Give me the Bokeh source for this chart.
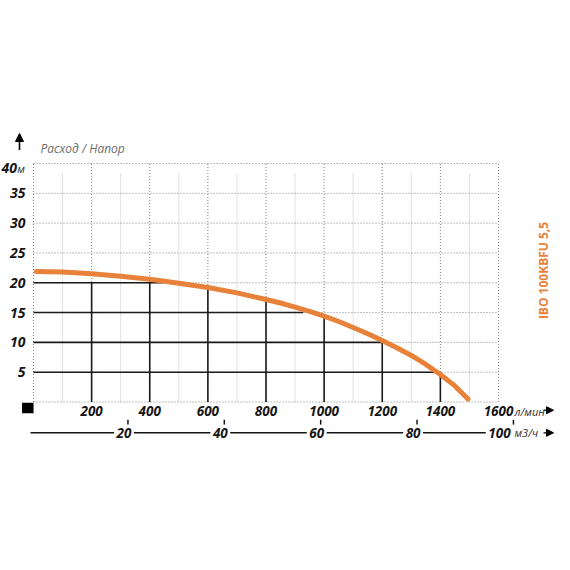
from bokeh.plotting import figure
from bokeh.models import Range1d, LabelSet, Arrow, NormalHead, ColumnDataSource
from bokeh.core.properties import value
from bokeh.embed import file_html
from bokeh.resources import INLINE
import math

# Q-H curve (л/мин -> м)
flow = [10, 100, 200, 300, 400, 500, 600, 700, 800, 850, 900, 950, 1000, 1050, 1100, 1150,
        1200, 1250, 1300, 1350, 1400, 1450, 1495]
head = [21.9, 21.8, 21.5, 21.1, 20.6, 19.9, 19.2, 18.3, 17.2, 16.6, 15.9, 15.2, 14.4, 13.5, 12.5,
        11.45, 10.3, 9.1, 7.8, 6.3, 4.6, 2.7, 0.5]

# black guide lines from the axes to the curve
drop_flow = [200, 400, 600, 800, 1000, 1200, 1400]
drop_head = [20, 20, 19.2, 17.2, 14.4, 10.3, 4.6]
level_head = [20, 15, 10, 5]
level_flow = [445, 928, 1200, 1400]

flow_ticks = [200, 400, 600, 800, 1000, 1200, 1400, 1600]
flow_minor = [100, 300, 500, 700, 900, 1100, 1300, 1500]
head_ticks = [5, 10, 15, 20, 25, 30, 35]
head_top = 40
m3h_ticks = [20, 40, 60, 80]
m3h_last = 100
m3h_span = (0.4, 96.9)   # м3/ч under 0 and 1600 л/мин as drawn

title = "Расход / Напор"
model = "IBO 100KBFU 5,5"
unit_head = "м"
unit_lpm = "л/мин"
unit_m3h = "м3/ч"

ORANGE = "#e8823a"
INK = "#151515"
GRID = "#808080"
FONT = value("Open Sans")

# layout: the field 0..1600 x 0..40 sits at OX,OY (canvas px) with size PW x PH
W = H = 554
OX, OY = 33, 401.5
PW, PH = 465, 238.5
X1, Y1 = 1600, head_top
kx = X1 / PW
ky = Y1 / PH


def dx(px):
    return px * kx


def dy(px):
    return px * ky


def to_m3h(x):
    return m3h_span[0] + x * (m3h_span[1] - m3h_span[0]) / X1


xs, xe = -OX * kx, (W - OX) * kx
p = figure(width=W, height=H, x_range=Range1d(xs, xe), y_range=Range1d(-(H - OY) * ky, OY * ky),
           x_axis_type=None, y_axis_type=None, output_backend="svg", toolbar_location=None,
           min_border=0)
p.extra_x_ranges = {"m3h": Range1d(to_m3h(xs), to_m3h(xe))}
p.outline_line_color = None
p.background_fill_color = "white"

# grid
p.segment(x0=flow_minor, y0=0, x1=flow_minor, y1=Y1 - dy(9.5), line_color="#e2e2e2", line_width=1)
gx = [0] + flow_ticks
p.segment(x0=gx, y0=0, x1=gx, y1=Y1, line_color=GRID, line_width=1, line_dash="1 2")
gy = [0] + head_ticks + [head_top]
p.segment(x0=0, y0=gy, x1=X1, y1=gy, line_color=GRID, line_width=1, line_dash="1 2")

# data
p.segment(x0=drop_flow, y0=0, x1=drop_flow, y1=drop_head, line_color="#1b1b1b", line_width=1.6)
p.segment(x0=0, y0=level_head, x1=level_flow, y1=level_head, line_color="#1b1b1b", line_width=1.6)
p.line(flow, head, line_color=ORANGE, line_width=5, line_cap="round", line_join="round")

tick_style = dict(text_font=FONT, text_font_style="bold italic", text_font_size="13.5px",
                  text_color=INK, text_baseline="middle")
unit_style = dict(text_font=FONT, text_font_style="italic", text_font_size="11px",
                  text_color="#333333", text_baseline="middle")

# head axis
p.text(x=-dx(8), y=head_ticks, text=[str(v) for v in head_ticks], text_align="right",
       **dict(tick_style, text_font_size="14px"))
p.text(x=[-dx(16.5)], y=[head_top - dy(4.8)], text=[str(head_top)], text_align="right",
       **dict(tick_style, text_font_size="14px", text_baseline="alphabetic"))
p.text(x=[-dx(16.3)], y=[head_top - dy(4.8)], text=[unit_head], text_align="left",
       **dict(unit_style, text_baseline="alphabetic"))
p.text(x=[dx(7)], y=[head_top + dy(15.3)], text=[title], text_align="left",
       text_font=FONT, text_font_style="italic", text_font_size="12px",
       text_color="#6e6e6e", text_baseline="middle")
p.add_layout(Arrow(end=NormalHead(size=8, fill_color="black", line_color="black", line_width=1),
                   x_start=-dx(14), x_end=-dx(14), y_start=head_top + dy(13.5),
                   y_end=head_top + dy(30), line_width=1.6, line_color="black"))

# л/мин axis
p.text(x=flow_ticks, y=-dy(8.5), text=[str(v) for v in flow_ticks], text_align="center", **tick_style)
p.text(x=[X1 + dx(16)], y=[-dy(9.3)], text=[unit_lpm], text_align="left", **unit_style)
p.add_layout(Arrow(end=NormalHead(size=7, fill_color="black", line_color="black", line_width=1),
                   x_start=X1 + dx(45), x_end=X1 + dx(55), y_start=-dy(8.2), y_end=-dy(8.2),
                   line_width=1.3, line_color="black"))
p.rect(x=[-dx(5.7)], y=[-dy(6)], width=dx(11.5), height=dy(10.4), fill_color="black", line_color=None)

# м3/ч axis: line, ticks and labels sitting on the line
p.segment(x0=[-dx(3)], y0=[-dy(30.8)], x1=[X1], y1=[-dy(30.8)], line_color=INK, line_width=1.5)
m3_marks = m3h_ticks + [m3h_last]
p.segment(x0=m3_marks, y0=-dy(17.8), x1=m3_marks, y1=-dy(22.6), line_color=INK, line_width=1.5,
          x_range_name="m3h")
m3_src = ColumnDataSource(dict(x=m3h_ticks, y=[-dy(30.8)] * len(m3h_ticks),
                               text=[str(v) for v in m3h_ticks]))
p.add_layout(LabelSet(x="x", y="y", text="text", source=m3_src, x_range_name="m3h", x_offset=-4,
                      text_align="center", background_fill_color="white",
                      border_line_color="white", border_line_width=5, **tick_style))
last_src = ColumnDataSource(dict(x=[m3h_last], y=[-dy(30.8)], text=[str(m3h_last)]))
p.add_layout(LabelSet(x="x", y="y", text="text", source=last_src, x_range_name="m3h", x_offset=-14,
                      text_align="center", background_fill_color="white",
                      border_line_color="white", border_line_width=5, **tick_style))
p.text(x=[X1 + dx(16)], y=[-dy(30.8)], text=[unit_m3h], text_align="left", **unit_style)
p.add_layout(Arrow(end=NormalHead(size=7, fill_color="black", line_color="black", line_width=1),
                   x_start=X1 + dx(45), x_end=X1 + dx(55), y_start=-dy(30.8), y_end=-dy(30.8),
                   line_width=1.3, line_color="black"))

# pump model, vertical on the right
p.text(x=[X1 + dx(45)], y=[dy(131.5)], text=[model], angle=math.pi / 2, text_align="center",
       text_baseline="middle", text_font=FONT, text_font_style="bold", text_font_size="12px",
       text_color=ORANGE)

open("out.html", "w", encoding="utf-8").write(file_html(p, INLINE))
